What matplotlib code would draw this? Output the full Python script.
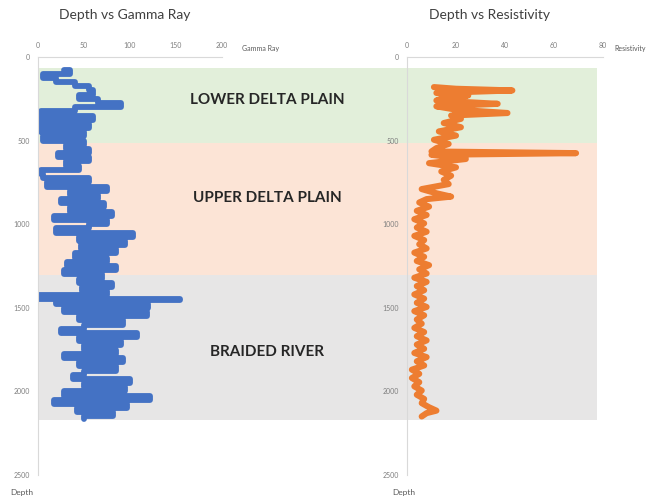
import matplotlib.pyplot as plt

plt.rcParams['font.family'] = ['Lato', 'DejaVu Sans']

# Gamma ray log (API) against depth
gr_depth = [75, 100, 125, 150, 175, 200, 225, 250, 275, 300, 325, 350, 375, 400,
            425, 450, 475, 500, 525, 550, 575, 600, 625, 650, 675, 700, 725, 750,
            775, 800, 825, 850, 875, 900, 925, 950, 975, 1000, 1025, 1050, 1075,
            1100, 1125, 1150, 1175, 1200, 1225, 1250, 1275, 1300, 1325, 1350,
            1375, 1400, 1425, 1445, 1455, 1475, 1500, 1525, 1550, 1575, 1600,
            1625, 1650, 1675, 1700, 1725, 1750, 1775, 1800, 1825, 1850, 1875,
            1900, 1925, 1950, 1975, 2000, 2025, 2050, 2075, 2100, 2125, 2150, 2165]
gr_value = [28, 35, 5, 20, 40, 55, 60, 45, 65, 90, 40, 3, 60, 3,
            55, 3, 50, 5, 50, 30, 55, 22, 55, 30, 45, 3, 5, 55,
            10, 75, 35, 65, 25, 72, 35, 80, 17, 75, 55, 20, 103,
            45, 95, 47, 85, 40, 75, 32, 85, 28, 70, 45,
            80, 48, 75, 0, 154, 20, 120, 28, 118, 45, 92,
            50, 25, 108, 45, 90, 50, 85, 28, 92, 45, 85,
            50, 38, 100, 50, 95, 28, 122, 17, 97, 42, 82, 50]

# Resistivity log (ohm.m) against depth
res_depth = [180, 190, 200, 215, 230, 245, 260, 280, 295, 315, 335, 350, 370,
             395, 420, 445, 470, 495, 520, 545, 565, 575, 585, 610, 635, 660,
             685, 710, 735, 760, 790, 815, 835, 850, 870, 895, 920, 945, 970,
             995, 1020, 1045, 1070, 1095, 1120, 1145, 1170, 1195, 1220, 1245,
             1270, 1295, 1320, 1345, 1370, 1395, 1420, 1445, 1470, 1495, 1520,
             1545, 1570, 1595, 1620, 1645, 1670, 1695, 1720, 1745, 1770, 1795,
             1820, 1845, 1870, 1895, 1920, 1945, 1970, 1995, 2020, 2045, 2070,
             2095, 2115, 2130, 2150]
res_value = [11, 20, 43, 12, 25, 15, 12, 37, 12, 20, 41, 18, 22,
             15, 22, 13, 20, 11, 17, 12, 10, 69, 10, 24, 9, 20,
             14, 18, 15, 17, 6, 12, 18, 8, 5, 9, 4, 8, 3,
             7, 4, 8, 3, 7, 5, 8, 3, 7, 4, 9,
             5, 8, 3, 8, 4, 7, 3, 7, 4, 8, 3,
             7, 4, 6, 3, 7, 4, 8, 4, 7, 3, 8,
             4, 7, 2, 5, 2, 5, 3, 6, 4, 7, 6,
             9, 12, 8, 6]

# Depositional environments
zone_names = ['LOWER DELTA PLAIN', 'UPPER DELTA PLAIN', 'BRAIDED RIVER']
zone_top = [65, 515, 1305]
zone_base = [515, 1305, 2170]
zone_label_depth = [255, 845, 1765]
zone_colors = ['#E2EFDA', '#FCE4D6', '#E7E6E6']

W, H = 659, 504
fig = plt.figure(figsize=(W / 100, H / 100), dpi=100)

y0 = 1 - 475 / H
hgt = 418 / H

# shaded zones run behind both tracks
bg = fig.add_axes([38 / W, y0, 559 / W, hgt], zorder=0)
bg.set_xlim(0, 1)
bg.set_ylim(2500, 0)
bg.axis('off')
for name, top, base, dl, c in zip(zone_names, zone_top, zone_base,
                                  zone_label_depth, zone_colors):
    bg.axhspan(top, base, color=c, lw=0)
    bg.text(0.41, dl, name, ha='center', va='center', fontsize=11,
            fontweight='bold', color='#262626')


def style(ax, xmax, xstep, xname, name_x, title, title_x, depth_x):
    ax.patch.set_alpha(0)
    ax.set_xlim(0, xmax)
    ax.set_ylim(2500, 0)
    ax.xaxis.tick_top()
    ax.set_xticks(range(0, xmax + 1, xstep))
    ax.set_yticks(range(0, 2501, 500))
    ax.tick_params(labelsize=5, colors='#7f7f7f', length=0, pad=6)
    for s in ['right', 'bottom']:
        ax.spines[s].set_visible(False)
    for s in ['left', 'top']:
        ax.spines[s].set_color('#D9D9D9')
        ax.spines[s].set_linewidth(0.8)
    ax.text(name_x, 1.012, xname, transform=ax.transAxes, fontsize=5,
            color='#595959', ha='left', va='bottom')
    ax.text(depth_x, -0.043, 'Depth', transform=ax.transAxes, fontsize=6,
            color='#595959', ha='left', va='center')
    ax.text(title_x, 1.1, title, transform=ax.transAxes, fontsize=10,
            color='#404040', ha='center', va='center')


ax1 = fig.add_axes([38 / W, y0, 184 / W, hgt], zorder=1)
ax1.plot(gr_value, gr_depth, color='#4472C4', lw=4.2, drawstyle='steps-post',
         solid_joinstyle='round', solid_capstyle='round')
style(ax1, 200, 50, 'Gamma Ray', 1.11, 'Depth vs Gamma Ray', 0.47, -0.152)

ax2 = fig.add_axes([407 / W, y0, 196 / W, hgt], zorder=1)
ax2.plot(res_value, res_depth, color='#ED7D31', lw=4.4,
         solid_joinstyle='round', solid_capstyle='round')
style(ax2, 80, 20, 'Resistivity', 1.056, 'Depth vs Resistivity', 0.42, -0.077)

fig.savefig('out.png', dpi=100)
